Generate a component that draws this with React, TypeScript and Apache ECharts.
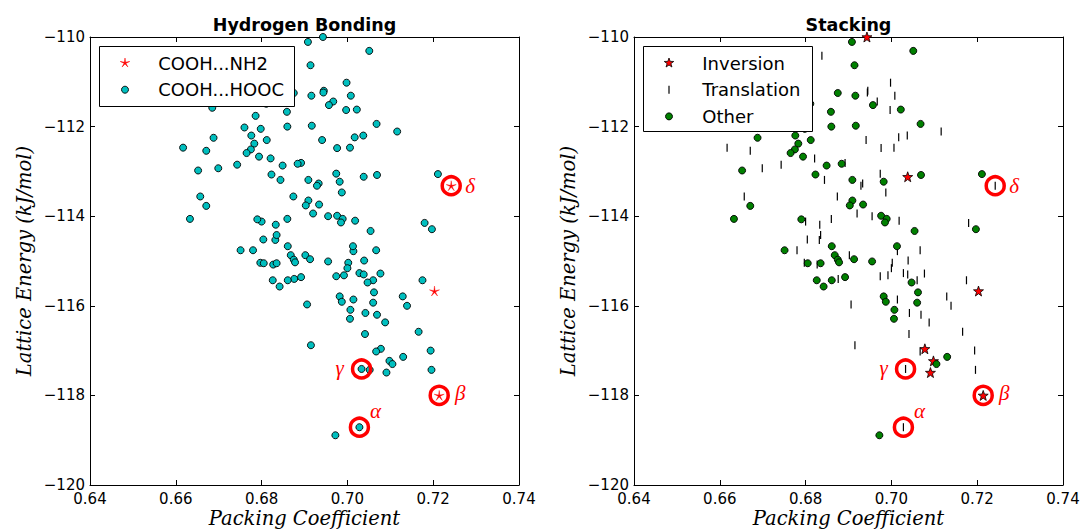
import React, { useEffect, useRef } from 'react';
import * as echarts from 'echarts';

// [packing coefficient, lattice energy (kJ/mol)]
// Structures whose stacking is an inversion
const inversionHOOC: number[][] = [
  [0.6943, -110.0], [0.7038, -113.12], [0.7078, -116.96], [0.7098, -117.23], [0.7091, -117.49],
];
const inversionNH2: number[][] = [[0.7203, -115.67], [0.7214, -118.0]];
const translationNH2: number[][] = [[0.7242, -113.32]];
const translationHOOC: number[][] = [
  [0.6998, -111.02], [0.6945, -111.2], [0.6944, -111.24], [0.7008, -111.31], [0.6967, -111.44],
  [0.6997, -111.63], [0.7116, -112.11], [0.6941, -112.3], [0.7017, -112.24], [0.7037, -112.2],
  [0.6617, -112.47], [0.6671, -112.54], [0.6821, -112.71], [0.6976, -112.48], [0.7006, -112.47],
  [0.6892, -112.81], [0.6699, -112.93], [0.6743, -112.85], [0.6844, -113.19], [0.6974, -113.05],
  [0.6933, -113.27], [0.6929, -113.32], [0.6987, -113.47], [0.6874, -113.56], [0.692, -113.94],
  [0.6955, -114.0], [0.7018, -114.1], [0.68, -114.12], [0.6833, -114.19], [0.686, -114.06],
  [0.718, -114.15], [0.6657, -113.56], [0.678, -114.76], [0.6804, -114.52], [0.6832, -114.53],
  [0.6835, -114.42], [0.6902, -114.87], [0.7014, -114.78], [0.7067, -114.76], [0.7039, -114.99],
  [0.6797, -115.04], [0.6827, -115.08], [0.7002, -115.04], [0.7, -115.16], [0.6974, -115.34],
  [0.6992, -115.32], [0.7028, -115.27], [0.7038, -115.3], [0.706, -115.43], [0.7077, -115.28],
  [0.7175, -115.43], [0.6876, -115.4], [0.6906, -115.97], [0.7014, -115.86], [0.7129, -115.79],
  [0.7139, -116.0], [0.7042, -116.16], [0.7069, -116.2], [0.7088, -116.37], [0.7041, -116.63],
  [0.7166, -116.58], [0.6915, -116.88], [0.7067, -117.02], [0.7194, -117.0], [0.7033, -117.41],
  [0.7052, -117.43], [0.7196, -117.43], [0.7028, -118.71], [0.6838, -110.42],
];
const otherHOOC: number[][] = [
  [0.6908, -110.11], [0.7051, -110.31], [0.6914, -110.63], [0.6875, -111.25], [0.6916, -111.31],
  [0.6957, -111.52], [0.7022, -111.62], [0.6811, -111.49], [0.6685, -111.58], [0.6786, -111.76],
  [0.6859, -111.67], [0.676, -112.02], [0.6798, -112.05], [0.686, -112.0], [0.6917, -111.98],
  [0.7068, -111.94], [0.6688, -112.25], [0.6776, -112.2], [0.6783, -112.38], [0.6812, -112.3],
  [0.6775, -112.51], [0.6765, -112.59], [0.6794, -112.67], [0.6849, -112.87], [0.6884, -112.83],
  [0.6652, -112.98], [0.6823, -113.07], [0.6982, -113.23], [0.7069, -113.08], [0.7211, -113.06],
  [0.6909, -113.19], [0.6909, -113.65], [0.6903, -113.76], [0.6934, -113.74], [0.6976, -113.99],
  [0.6989, -114.06], [0.6985, -114.14], [0.679, -114.07], [0.7197, -114.29], [0.7054, -114.33],
  [0.6671, -113.77], [0.6633, -114.06], [0.6751, -114.76], [0.6861, -114.67], [0.6868, -114.87],
  [0.6875, -114.97], [0.6878, -115.03], [0.6913, -114.96], [0.6955, -115.01], [0.7013, -114.67],
  [0.6805, -115.05], [0.6835, -115.05], [0.7047, -115.48], [0.6826, -115.43], [0.6861, -115.43],
  [0.6892, -115.36], [0.6842, -115.57], [0.6982, -115.79], [0.6987, -115.91], [0.7062, -115.7],
  [0.706, -115.93], [0.7007, -116.09], [0.7006, -116.29], [0.713, -117.14], [0.7105, -117.3],
  [0.6972, -118.89],
];

// Known polymorphs, circled in both panels
const polymorphNames = ['α', 'β', 'γ', 'δ'];
const polymorphX = [0.7028, 0.7214, 0.7033, 0.7242];
const polymorphY = [-118.71, -118.0, -117.41, -113.32];

const panelTitles = ['Hydrogen Bonding', 'Stacking'];
const leftLegendLabels = ['COOH...NH2', 'COOH...HOOC'];
const rightLegendLabels = ['Inversion', 'Translation', 'Other'];
const xTitle = 'Packing Coefficient';
const yTitle = 'Lattice Energy (kJ/mol)';
const X_MIN = 0.64, X_MAX = 0.74, X_STEP = 0.02;
const Y_MIN = -120, Y_MAX = -110, Y_STEP = 2;

// ---------- styling ----------
const GRID_LEFTS = [90, 634];
const GRID_TOP = 37;
const GRID_W = 429;
const GRID_H = 448;
const CYAN = '#00bfbf';
const GREEN = '#008000';
const RED = '#ff0000';
const SANS = '"DejaVu Sans", sans-serif';
const SERIF = '"Liberation Serif", serif';
const NAME_SERIF = '"DejaVu Serif", serif';
const STAR_PATH = 'path://M0,-10L2.351,-3.236L9.511,-3.09L3.804,1.236L5.878,8.09L0,4L-5.878,8.09L-3.804,1.236L-9.511,-3.09L-2.351,-3.236Z';
const ASTERISK_PATH = 'path://M0,-10L1.176,-1.618L9.511,-3.09L1.902,0.618L5.878,8.09L0,2L-5.878,8.09L-1.902,0.618L-9.511,-3.09L-1.176,-1.618Z';
const labelOffsets: Record<string, number[]> = { 'α': [16, -16], 'β': [21, -2], 'γ': [-22, -1], 'δ': [19, 0] };

function starPts(cx: number, cy: number, ro: number, ri: number) {
  const pts: number[][] = [];
  for (let k = 0; k < 10; k++) {
    const a = (-90 + k * 36) * Math.PI / 180;
    const r = k % 2 === 0 ? ro : ri;
    pts.push([cx + r * Math.cos(a), cy + r * Math.sin(a)]);
  }
  return pts;
}

const axisLine = { show: true, onZero: false, lineStyle: { color: '#000', width: 1 } };
const axisTick = { show: true, inside: true, length: 5, lineStyle: { color: '#000', width: 1 } };
const nameStyle = { fontFamily: NAME_SERIF, fontStyle: 'italic', fontSize: 19.5, lineHeight: 19.5, color: '#000' };

function makeXAxes(gi: number) {
  const base = { gridIndex: gi, type: 'value', min: X_MIN, max: X_MAX, interval: X_STEP, axisLine, axisTick, splitLine: { show: false } };
  return [
    { ...base, position: 'bottom', axisLabel: { show: true, color: '#000', fontSize: 15, lineHeight: 13, fontFamily: SANS, margin: 7, formatter: (v: number) => v.toFixed(2) },
      name: xTitle, nameLocation: 'middle', nameGap: 24, nameMoveOverlap: false, nameTextStyle: nameStyle },
    { ...base, position: 'top', axisLabel: { show: false } },
  ];
}
function makeYAxes(gi: number) {
  const base = { gridIndex: gi, type: 'value', min: Y_MIN, max: Y_MAX, interval: Y_STEP, axisLine, axisTick, splitLine: { show: false } };
  return [
    { ...base, position: 'left', axisLabel: { show: true, color: '#000', fontSize: 15, lineHeight: 13, fontFamily: SANS, margin: 5, formatter: (v: number) => String(v).replace('-', '\u2212') },
      name: yTitle, nameLocation: 'middle', nameGap: 56, nameRotate: 90, nameMoveOverlap: false, nameTextStyle: nameStyle },
    { ...base, position: 'right', axisLabel: { show: false } },
  ];
}

function polymorphSeries(gi: number) {
  return {
    type: 'scatter', xAxisIndex: gi * 2, yAxisIndex: gi * 2, silent: true, z: 5,
    symbol: 'circle', symbolSize: 18,
    itemStyle: { color: 'rgba(0,0,0,0)', borderColor: RED, borderWidth: 3.5, opacity: 1 },
    label: { show: true, position: 'inside', formatter: '{b}', color: RED, fontFamily: SERIF, fontStyle: 'italic', fontSize: 21 },
    data: polymorphNames.map((n, i) => ({ name: n, value: [polymorphX[i], polymorphY[i]], label: { offset: labelOffsets[n] } })),
  };
}

function legendGraphics() {
  const els: any[] = [];
  const boxes = [
    { x: 99.5, y: 46.5, w: 195, h: 60, rows: leftLegendLabels },
    { x: 643.5, y: 46.5, w: 169, h: 85, rows: rightLegendLabels },
  ];
  boxes.forEach((b, bi) => {
    els.push({ type: 'rect', z: 100, shape: { x: b.x, y: b.y, width: b.w, height: b.h }, style: { fill: '#fff', stroke: '#000', lineWidth: 1 } });
    b.rows.forEach((t, ri) => {
      const cy = b.y + 16.5 + ri * 26.7;
      const mx = b.x + 25.5;
      els.push({ type: 'text', z: 101, x: b.x + 58.8, y: cy, style: { text: t, fill: '#000', fontSize: 18, fontFamily: SANS, align: 'left', verticalAlign: 'middle', textAlign: 'left', textVerticalAlign: 'middle' } });
      let m: any;
      if (bi === 0 && ri === 0) m = { type: 'polygon', shape: { points: starPts(mx, cy, 5, 1) }, style: { fill: RED, stroke: RED, lineWidth: 0.5 } };
      else if (bi === 0) m = { type: 'circle', shape: { cx: mx, cy, r: 3.5 }, style: { fill: CYAN, stroke: '#000', lineWidth: 0.9 } };
      else if (ri === 0) m = { type: 'polygon', shape: { points: starPts(mx, cy, 5, 2) }, style: { fill: RED, stroke: '#000', lineWidth: 0.8 } };
      else if (ri === 1) m = { type: 'line', shape: { x1: mx, y1: cy - 4, x2: mx, y2: cy + 4 }, style: { stroke: '#000', lineWidth: 1.2 } };
      else m = { type: 'circle', shape: { cx: mx, cy, r: 3.5 }, style: { fill: GREEN, stroke: '#000', lineWidth: 0.9 } };
      m.z = 101;
      els.push(m);
    });
  });
  panelTitles.forEach((t, i) => {
    els.push({ type: 'text', z: 101, x: GRID_LEFTS[i] + GRID_W / 2, y: 25, style: { text: t, fill: '#000', fontSize: 17.5, fontWeight: 'bold', fontFamily: SANS, align: 'center', verticalAlign: 'middle', textAlign: 'center', textVerticalAlign: 'middle' } });
  });
  return els;
}

function buildOption() {
  return {
    animation: false,
    backgroundColor: '#fff',
    grid: GRID_LEFTS.map((l) => ({ left: l, top: GRID_TOP, width: GRID_W, height: GRID_H, containLabel: false, outerBoundsMode: 'none' })),
    xAxis: [...makeXAxes(0), ...makeXAxes(1)],
    yAxis: [...makeYAxes(0), ...makeYAxes(1)],
    series: [
      { type: 'scatter', xAxisIndex: 0, yAxisIndex: 0, silent: true, symbol: ASTERISK_PATH, symbolSize: 10,
        itemStyle: { color: RED, borderColor: RED, borderWidth: 0.4, opacity: 1 }, data: [...inversionNH2, ...translationNH2] },
      { type: 'scatter', xAxisIndex: 0, yAxisIndex: 0, silent: true, symbol: 'circle', symbolSize: 7,
        itemStyle: { color: CYAN, borderColor: '#000', borderWidth: 0.9, opacity: 1 }, data: [...inversionHOOC, ...translationHOOC, ...otherHOOC] },
      polymorphSeries(0),
      { type: 'scatter', xAxisIndex: 2, yAxisIndex: 2, silent: true, symbol: STAR_PATH, symbolSize: 10,
        itemStyle: { color: RED, borderColor: '#000', borderWidth: 0.8, opacity: 1 }, data: [...inversionHOOC, ...inversionNH2] },
      { type: 'scatter', xAxisIndex: 2, yAxisIndex: 2, silent: true, symbol: 'rect', symbolSize: [1.2, 8],
        itemStyle: { color: '#000', opacity: 1 }, data: [...translationHOOC, ...translationNH2] },
      { type: 'scatter', xAxisIndex: 2, yAxisIndex: 2, silent: true, symbol: 'circle', symbolSize: 7,
        itemStyle: { color: GREEN, borderColor: '#000', borderWidth: 0.9, opacity: 1 }, data: otherHOOC },
      polymorphSeries(1),
    ],
    graphic: legendGraphics(),
  };
}

export default function App() {
  const ref = useRef<HTMLDivElement>(null);
  useEffect(() => {
    if (!ref.current) return;
    const chart = echarts.init(ref.current, null, { renderer: 'svg' });
    chart.setOption(buildOption() as any);
    return () => chart.dispose();
  }, []);
  return <div ref={ref} style={{ position: 'fixed', left: 0, top: 0, width: 1080, height: 531, background: '#fff' }} />;
}
